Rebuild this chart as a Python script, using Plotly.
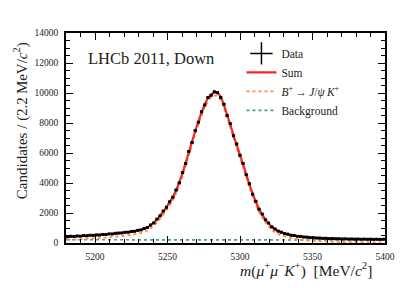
import numpy as np
import plotly.graph_objects as go

# ---- data ----
bin_lo = 5180.0
bin_width = 2.2
n_bins = 100
bin_centers = [round(bin_lo + bin_width * (i + 0.5), 2) for i in range(n_bins)]

data_counts = [410, 448, 430, 470, 455, 492, 480, 515, 508, 540,
               530, 570, 566, 610, 600, 648, 662, 670, 712, 718,
               770, 780, 845, 870, 965, 1030, 1200, 1340, 1590, 1810,
               2130, 2380, 2750, 3050, 3530, 4010, 4690, 5300, 6100, 6700,
               7500, 8050, 8750, 9200, 9700, 9850, 10080, 10020, 9700, 9250,
               8500, 7950, 7150, 6600, 5850, 5300, 4550, 3950, 3250, 2780,
               2250, 1930, 1550, 1330, 1070, 935, 790, 720, 625, 590,
               520, 500, 445, 440, 398, 392, 358, 355, 330, 332,
               310, 312, 290, 296, 280, 286, 268, 276, 262, 268,
               255, 262, 250, 258, 246, 253, 243, 250, 240, 248]

sum_curve = [425, 435, 445, 455, 468, 480, 492, 503, 515, 527,
             542, 558, 575, 595, 615, 635, 655, 678, 700, 725,
             755, 790, 830, 885, 950, 1040, 1180, 1360, 1570, 1830,
             2100, 2400, 2720, 3080, 3500, 4050, 4650, 5350, 6050, 6750,
             7450, 8100, 8700, 9250, 9650, 9900, 10030, 10000, 9750, 9200,
             8550, 7900, 7200, 6550, 5900, 5250, 4580, 3900, 3300, 2750,
             2290, 1900, 1580, 1310, 1090, 920, 800, 710, 640, 580,
             530, 490, 455, 430, 405, 385, 365, 350, 337, 325,
             315, 305, 297, 290, 284, 279, 274, 270, 266, 263,
             260, 257, 255, 253, 251, 249, 247, 246, 245, 244]

signal_curve = [213, 223, 233, 243, 256, 268, 280, 291, 303, 315,
                330, 346, 363, 383, 403, 423, 443, 466, 488, 513,
                543, 578, 618, 673, 738, 828, 968, 1148, 1358, 1618,
                1888, 2188, 2508, 2868, 3288, 3838, 4438, 5138, 5838, 6538,
                7238, 7888, 8488, 9038, 9438, 9688, 9818, 9788, 9538, 8988,
                8345, 7695, 6995, 6345, 5695, 5045, 4375, 3695, 3095, 2545,
                2085, 1695, 1375, 1105, 885, 715, 595, 505, 435, 375,
                325, 285, 250, 225, 200, 180, 160, 145, 132, 120,
                110, 100, 92, 85, 79, 74, 69, 65, 61, 58,
                55, 52, 50, 48, 46, 44, 42, 41, 40, 39]

bkg_x = [5180, 5400]
bkg_y = [215, 200]

x_range = [5180, 5400]
y_range = [0, 14000]

SERIF = "Liberation Serif, DejaVu Serif, serif"

fig = go.Figure()

fig.add_trace(go.Scatter(
    x=bkg_x, y=bkg_y, mode="lines", name="Background",
    line=dict(color="#4f9a9a", width=1.6, dash="dot"), legendrank=4))

fig.add_trace(go.Scatter(
    x=bin_centers, y=signal_curve, mode="lines",
    name="<i>B</i><sup>+</sup>\u2009\u2192\u2009<i>J</i>/<i>\u03c8</i>\u2009<i>K</i><sup>+</sup>",
    line=dict(color="#ff8c40", width=1.8, dash="dot", shape="spline"), legendrank=3))

fig.add_trace(go.Scatter(
    x=bin_centers, y=sum_curve, mode="lines", name="Sum",
    line=dict(color="#f0282a", width=2.2, shape="spline"), legendrank=2))

fig.add_trace(go.Scatter(
    x=bin_centers, y=data_counts, mode="markers", name="Data", showlegend=False,
    marker=dict(color="black", size=3, symbol="square"),
    error_x=dict(type="constant", value=bin_width / 2, color="black", thickness=1.4, width=0),
    error_y=dict(type="data", array=list(np.sqrt(data_counts)), color="black", thickness=1.4, width=0)))

# legend entry for data
fig.add_trace(go.Scatter(
    x=[None], y=[None], mode="markers", name="Data",
    marker=dict(color="black", size=16, symbol="cross-thin",
                line=dict(color="black", width=1.5)), legendrank=1))

axis_common = dict(
    showline=True, linecolor="black", linewidth=1.5, mirror="allticks",
    ticks="inside", ticklen=7, tickwidth=1.2, tickcolor="black",
    showgrid=False, zeroline=False, tickformat="d",
    tickfont=dict(family=SERIF, size=9.5, color="#222"),
)

fig.update_xaxes(range=x_range, dtick=50, tick0=5200,
                 minor=dict(dtick=10, ticklen=4, tickwidth=1.1, tickcolor="black", ticks="inside"),
                 ticklabelstandoff=4, **axis_common)
fig.update_yaxes(range=y_range, dtick=2000, tick0=0,
                 minor=dict(dtick=500, ticklen=4, tickwidth=1.1, tickcolor="black", ticks="inside"),
                 ticklabelstandoff=4, **axis_common)

fig.update_layout(
    width=407, height=288,
    margin=dict(l=66, r=19, t=33, b=45),
    paper_bgcolor="white", plot_bgcolor="white",
    font=dict(family=SERIF, color="#222"),
    showlegend=True,
    legend=dict(x=0.55, y=0.972, xanchor="left", yanchor="top",
                bgcolor="rgba(0,0,0,0)", font=dict(family=SERIF, size=11.5, color="#222"),
                traceorder="normal", itemwidth=30),
    annotations=[
        dict(text="LHCb 2011, Down", x=0.062, y=0.878, xref="paper", yref="paper",
             xanchor="left", yanchor="middle", showarrow=False,
             font=dict(family=SERIF, size=16.5, color="#222")),
        dict(text="<i>m</i>(<i>\u03bc</i><sup>+</sup><i>\u03bc</i><sup>\u2212</sup><i>K</i><sup>+</sup>)\u2002[MeV/<i>c</i><sup>2</sup>]",
             x=0.966, y=-0.128, xref="paper", yref="paper",
             xanchor="right", yanchor="middle", showarrow=False,
             font=dict(family=SERIF, size=15.5, color="#222")),
        dict(text="Candidates / (2.2\u2009MeV/<i>c</i><sup>2</sup>)",
             x=-0.14, y=0.965, xref="paper", yref="paper", textangle=-90,
             xanchor="center", yanchor="top", showarrow=False,
             font=dict(family=SERIF, size=15, color="#222")),
    ],
)

fig.write_html("out.html", config={"displayModeBar": False},
               post_script="document.body.style.margin='0';document.body.style.overflow='hidden';")
